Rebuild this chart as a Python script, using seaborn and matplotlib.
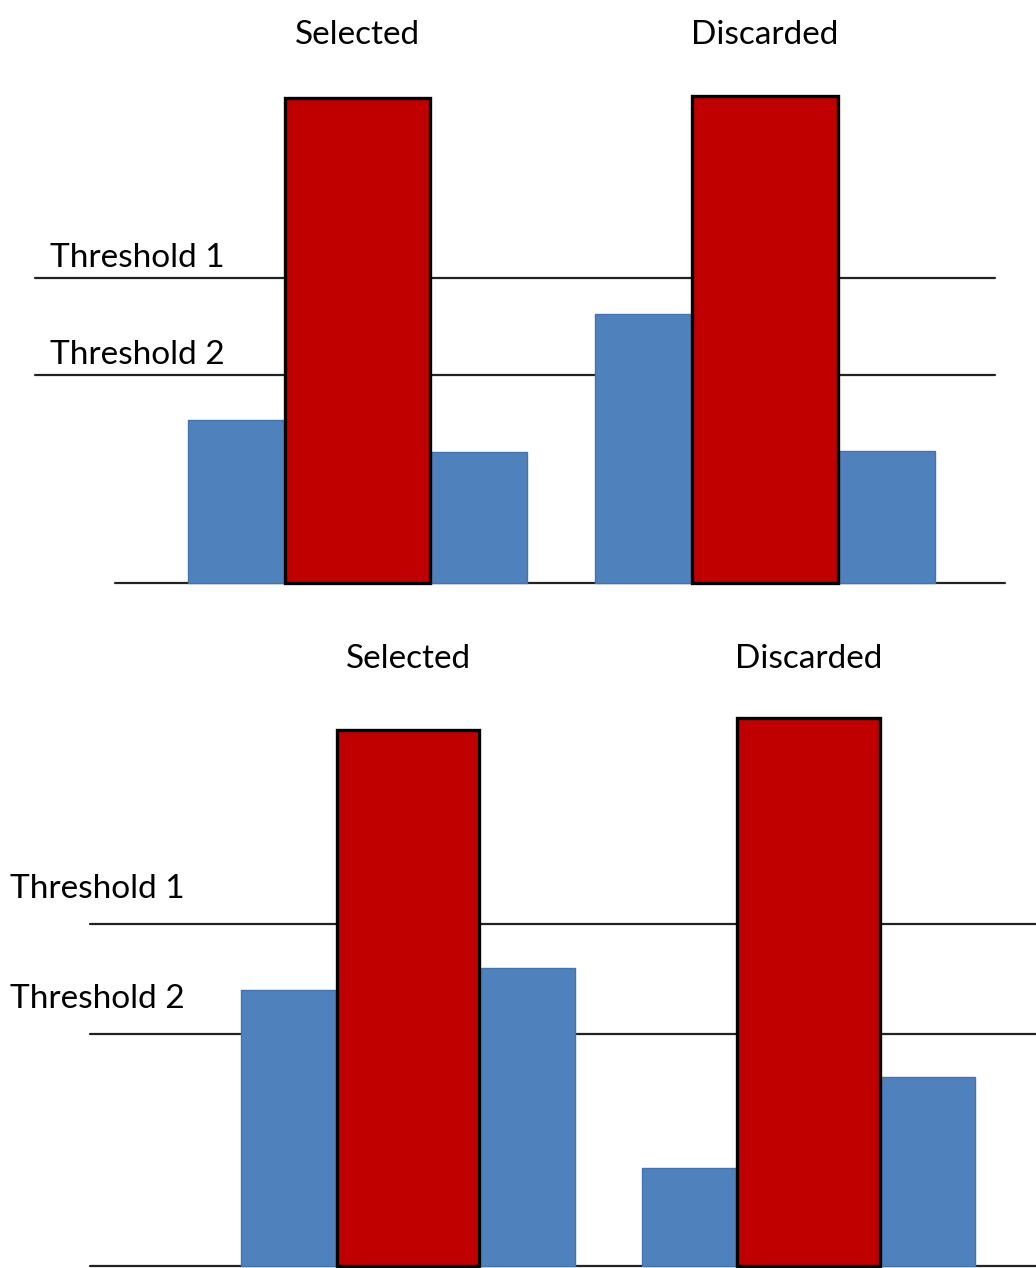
import numpy as np
import pandas as pd
import matplotlib.pyplot as plt
import seaborn as sns

# data (arbitrary units)
groups = ["Selected", "Discarded"]
red_top = [4.85, 4.87]
blue_left_top = [1.63, 2.69]
blue_right_top = [1.31, 1.32]
thresholds_top = [3.05, 2.08]

red_bottom = [5.36, 5.48]
blue_left_bottom = [2.76, 0.98]
blue_right_bottom = [2.98, 1.89]
thresholds_bottom = [3.42, 2.32]

threshold_names = ["Threshold 1", "Threshold 2"]

RED = "#C00000"
BLUE = "#4F81BD"
red_w = 0.356
blue_w = 0.238
off = (red_w + blue_w) / 2

sns.set_style("white")
plt.rcParams["font.family"] = ["Lato", "DejaVu Sans"]

W, H = 1036, 1268
fig = plt.figure(figsize=(W / 100, H / 100), dpi=100)
ax1 = fig.add_axes([0, 1 - 620 / H, 1, 620 / H])
ax2 = fig.add_axes([0, 0, 1, 648 / H])


def panel(ax, reds, bl, br, thr, xlim, ylim, line_x, base_x, label_x, label_dy, title_y):
    df = pd.DataFrame({"group": groups, "value": reds})
    sns.barplot(data=df, x="group", y="value", color=RED, width=red_w,
                edgecolor="black", linewidth=2.4, saturation=1, ax=ax, zorder=3)
    pos = np.arange(len(groups))
    ax.bar(pos - off, bl, width=blue_w, color=BLUE, edgecolor="#4574ad", linewidth=1, zorder=2)
    ax.bar(pos + off, br, width=blue_w, color=BLUE, edgecolor="#4574ad", linewidth=1, zorder=2)
    for t, name in zip(thr, threshold_names):
        ax.plot(line_x, [t, t], color="#222222", lw=1.6, zorder=1)
        ax.text(label_x, t + label_dy, name, fontsize=24, ha="left", va="bottom", color="black")
    ax.plot(base_x, [0, 0], color="#222222", lw=1.6, zorder=1)
    for p, g in zip(pos, groups):
        ax.text(p, title_y, g, fontsize=24, ha="center", va="center", color="black")
    ax.set_xlim(*xlim)
    ax.set_ylim(*ylim)
    ax.axis("off")


panel(ax1, red_top, blue_left_top, blue_right_top, thresholds_top,
      xlim=(-0.877, 1.665), ylim=(-0.37, 5.83),
      line_x=[-0.79, 1.564], base_x=[-0.595, 1.589],
      label_x=-0.755, label_dy=0.05, title_y=5.48)

panel(ax2, red_bottom, blue_left_bottom, blue_right_bottom, thresholds_bottom,
      xlim=(-1.019, 1.568), ylim=(-0.02, 6.46),
      line_x=[-0.794, 1.6], base_x=[-0.794, 1.6],
      label_x=-0.994, label_dy=0.20, title_y=6.07)

fig.savefig("out.png", dpi=100)
